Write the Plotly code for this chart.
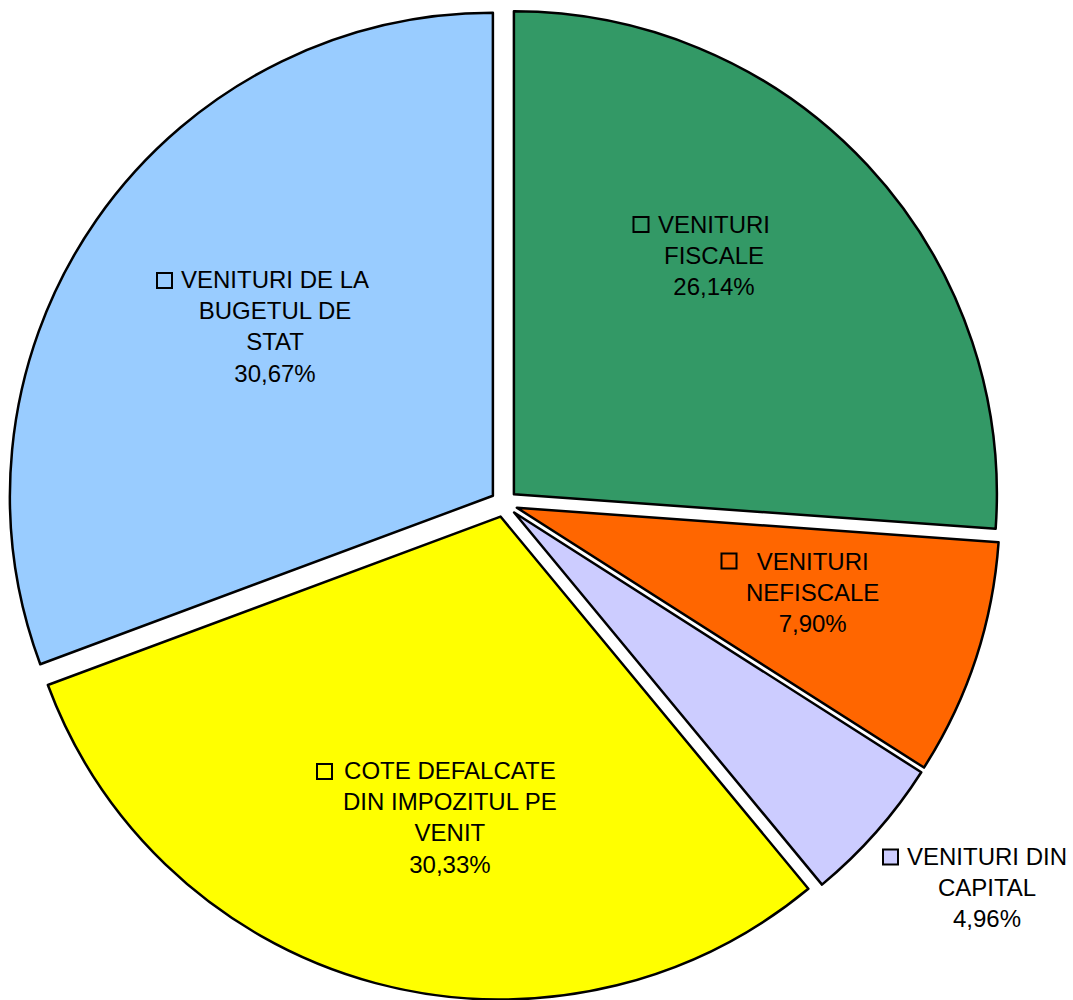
import plotly.graph_objects as go

# ---- data ----
categories = [
    "VENITURI FISCALE",
    "VENITURI NEFISCALE",
    "VENITURI DIN CAPITAL",
    "COTE DEFALCATE DIN IMPOZITUL PE VENIT",
    "VENITURI DE LA BUGETUL DE STAT",
]
shares = [26.14, 7.90, 4.96, 30.33, 30.67]
label_lines = [
    ["VENITURI", "FISCALE"],
    ["VENITURI", "NEFISCALE"],
    ["VENITURI DIN", "CAPITAL"],
    ["COTE DEFALCATE", "DIN IMPOZITUL PE", "VENIT"],
    ["VENITURI DE LA", "BUGETUL DE", "STAT"],
]
colors = ["#339966", "#FF6600", "#CCCCFF", "#FFFF00", "#99CCFF"]

# ---- layout helpers (pixel positions of label blocks / keys) ----
W, H = 1073, 1000
text_pos = [(714, 255), (812.5, 592.6), (986.5, 887.6), (450, 817.7), (274.5, 326.8)]
key_pos = [(641, 224.5), (729, 561), (890.5, 857), (324.5, 771.5), (164.5, 280.5)]
KEY = 15


def px(x):
    return x / W


def py(y):
    return 1 - y / H


def fmt(v):
    return f"{v:.2f}".replace(".", ",") + "%"


fig = go.Figure(
    go.Pie(
        labels=categories,
        values=shares,
        sort=False,
        direction="clockwise",
        rotation=0,
        pull=[0.028] * len(shares),
        marker=dict(colors=colors, line=dict(color="black", width=2.5)),
        textinfo="none",
        hoverinfo="label+percent",
        showlegend=False,
        domain=dict(x=[4 / W, 1004 / W], y=[0, 0.993]),
    )
)

annotations = []
shapes = []
for lines, v, (tx, ty), (kx, ky), c in zip(label_lines, shares, text_pos, key_pos, colors):
    annotations.append(
        dict(
            x=px(tx), y=py(ty), xref="paper", yref="paper",
            text="<br>".join(lines + [fmt(v)]),
            showarrow=False, xanchor="center", yanchor="middle", align="center",
            font=dict(family="Liberation Sans, Arial, sans-serif", size=24, color="black"),
        )
    )
    shapes.append(
        dict(
            type="rect", xref="paper", yref="paper",
            x0=px(kx - KEY / 2), x1=px(kx + KEY / 2),
            y0=py(ky + KEY / 2), y1=py(ky - KEY / 2),
            fillcolor=c, line=dict(color="black", width=2),
        )
    )

fig.update_layout(
    width=W, height=H,
    margin=dict(l=0, r=0, t=0, b=0),
    paper_bgcolor="white", plot_bgcolor="white",
    annotations=annotations, shapes=shapes,
)

fig.write_html("out.html")
